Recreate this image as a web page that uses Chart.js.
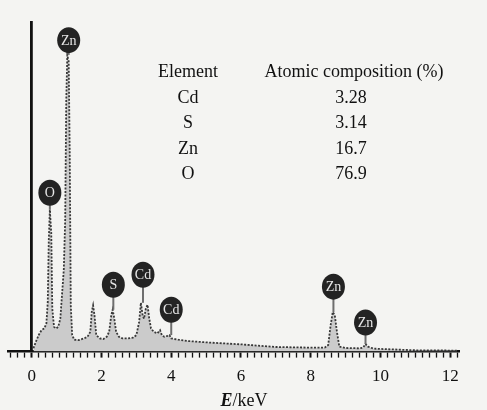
<!DOCTYPE html>
<html>
<head>
<meta charset="utf-8">
<script src="https://cdn.jsdelivr.net/npm/chart.js@4.4.1/dist/chart.umd.min.js"></script>
<style>
  html, body { margin: 0; padding: 0; background: #f4f4f2; }
  #wrap { width: 487px; height: 410px; }
</style>
</head>
<body>
<div id="wrap"><canvas id="eds"></canvas></div>
<script>
// EDS spectrum (energy in keV, intensity in % of full scale)
const energy = [0.05, 0.12, 0.2, 0.28, 0.36, 0.42, 0.46, 0.49, 0.52, 0.56, 0.59, 0.64, 0.7, 0.76, 0.82, 0.88, 0.92,
  0.96, 0.99, 1.02, 1.06, 1.09, 1.12, 1.16, 1.22, 1.35, 1.5, 1.6, 1.68, 1.72, 1.76, 1.8, 1.85, 1.95, 2.05, 2.15,
  2.22, 2.28, 2.32, 2.36, 2.42, 2.5, 2.6, 2.75, 2.9, 3.0, 3.08, 3.13, 3.18, 3.22, 3.27, 3.32, 3.37, 3.42, 3.5,
  3.6, 3.68, 3.73, 3.8, 3.9, 3.95, 4.0, 4.2, 4.5, 5.0, 5.5, 6.0, 6.5, 7.0, 7.5, 8.0, 8.4, 8.5, 8.57, 8.63,
  8.69, 8.75, 8.82, 9.0, 9.4, 9.5, 9.57, 9.64, 9.8, 10.5, 11.0, 12.2];
const counts = [1, 3, 5, 6.5, 7, 8.5, 15, 34, 43, 36, 13, 7.5, 7, 7.5, 10, 19, 25,
  40, 76, 90, 88, 60, 14, 5, 3.6, 3.5, 4, 4.5, 6, 12, 14, 11, 5, 4, 3.8, 4.5,
  6, 11, 12.7, 10.5, 6, 4.5, 4, 4, 4.2, 5, 9, 14.8, 11, 10, 13, 14.2, 10, 7, 6,
  5.5, 6.5, 5, 4.5, 4.8, 5, 4, 3.6, 3.2, 2.8, 2.5, 2.2, 1.8, 1.4, 1.3, 1.2, 1.2, 2, 8, 12,
  11, 6, 1.5, 1.1, 1, 1.2, 2.3, 1.5, 0.9, 0.6, 0.4, 0.3];

// peak markers
const markElem = ["Zn", "O", "S", "Cd", "Cd", "Zn", "Zn"];
const markE = [1.06, 0.52, 2.34, 3.19, 4.0, 8.65, 9.57];
const markY = [94.5, 48.2, 20.3, 23.3, 12.7, 19.7, 8.8];
const markPeak = [90, 43, 12.7, 14.8, 5, 12, 2.3];

// composition table
const elements = ["Cd", "S", "Zn", "O"];
const composition = ["3.28", "3.14", "16.7", "76.9"];

const xTickLabels = [0, 2, 4, 6, 8, 10, 12];

const SERIF = '"Liberation Serif", "DejaVu Serif", serif';

const overlay = {
  id: "overlay",
  afterDatasetsDraw(chart) {
    const { ctx, scales: { x, y } } = chart;
    ctx.save();
    // stems and circle labels
    for (let i = 0; i < markElem.length; i++) {
      const px = x.getPixelForValue(markE[i]);
      const cy = y.getPixelForValue(markY[i]);
      const py = y.getPixelForValue(markPeak[i]);
      ctx.strokeStyle = "#6e6e6e";
      ctx.lineWidth = 2;
      ctx.beginPath();
      ctx.moveTo(px, cy + 11);
      ctx.lineTo(px, py);
      ctx.stroke();
      ctx.fillStyle = "#232323";
      ctx.beginPath();
      ctx.ellipse(px, cy, 11.5, 13, 0, 0, Math.PI * 2);
      ctx.fill();
      ctx.fillStyle = "#e6e6e6";
      ctx.font = "14px " + SERIF;
      ctx.textAlign = "center";
      ctx.textBaseline = "middle";
      ctx.fillText(markElem[i], px, cy + 1);
    }
    // table
    ctx.fillStyle = "#111";
    ctx.font = "18px " + SERIF;
    ctx.textAlign = "center";
    ctx.textBaseline = "middle";
    ctx.fillText("Element", 188, 72);
    ctx.fillText("Atomic composition (%)", 354, 72);
    const rowY = [98, 123, 149, 174];
    for (let i = 0; i < elements.length; i++) {
      ctx.fillText(elements[i], 188, rowY[i]);
      ctx.fillText(composition[i], 351, rowY[i]);
    }
    // axis title E/keV
    ctx.textAlign = "left";
    ctx.font = "italic bold 18px " + SERIF;
    const wE = ctx.measureText("E").width;
    ctx.font = "18px " + SERIF;
    const wR = ctx.measureText("/keV").width;
    const start = 244 - (wE + wR) / 2;
    ctx.font = "italic bold 18px " + SERIF;
    ctx.fillText("E", start, 401);
    ctx.font = "18px " + SERIF;
    ctx.fillText("/keV", start + wE, 401);
    ctx.restore();
  }
};

new Chart(document.getElementById("eds"), {
  type: "line",
  data: {
    labels: energy,
    datasets: [{
      data: energy.map((e, i) => ({ x: e, y: counts[i] })),
      borderColor: "#383838",
      borderWidth: 1.8,
      borderDash: [2, 1.5],
      backgroundColor: "#cbcbcb",
      fill: "origin",
      pointRadius: 0,
      tension: 0
    }]
  },
  options: {
    responsive: true,
    maintainAspectRatio: false,
    animation: false,
    layout: { padding: { left: 8, right: 28, top: 22, bottom: 14 } },
    plugins: { legend: { display: false }, tooltip: { enabled: false } },
    scales: {
      x: {
        type: "linear",
        min: -0.68,
        max: 12.25,
        grid: {
          display: true,
          drawOnChartArea: false,
          drawTicks: true,
          tickLength: 6,
          tickColor: "#111",
          tickWidth: (c) => (c.tick && Math.abs(c.tick.value - Math.round(c.tick.value)) < 1e-6 && Math.round(c.tick.value) % 2 === 0) ? 2 : 1.3
        },
        border: { display: true, color: "#111", width: 2.6 },
        ticks: {
          stepSize: 0.2,
          includeBounds: false,
          autoSkip: false,
          maxRotation: 0,
          maxTicksLimit: 200,
          padding: 9,
          color: "#111",
          font: { family: SERIF, size: 17 },
          callback: (v) => {
            const r = Math.round(v);
            return (Math.abs(v - r) < 1e-6 && xTickLabels.includes(r)) ? String(r) : "";
          }
        }
      },
      y: {
        type: "linear",
        position: { x: 0 },
        min: 0,
        max: 100,
        grid: { display: false },
        ticks: { display: false },
        border: { display: true, color: "#111", width: 2.8 }
      }
    }
  },
  plugins: [overlay]
});
</script>
</body>
</html>
